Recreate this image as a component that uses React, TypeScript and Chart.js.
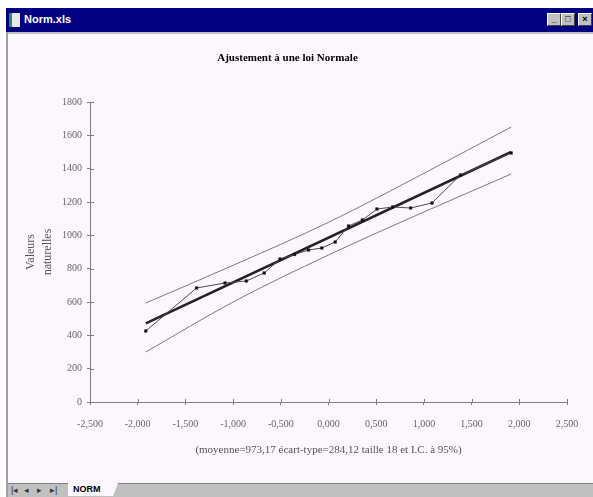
import React, { useEffect, useRef } from "react";
import { Chart, registerables } from "chart.js";

Chart.register(...registerables);

// ---- data ----
const chartTitle = "Ajustement à une loi Normale";
const xAxisTitle = "(moyenne=973,17 écart-type=284,12 taille 18 et I.C. à 95%)";
const yAxisTitle = ["Valeurs", "naturelles"];

const xTickValues = [-2.5, -2, -1.5, -1, -0.5, 0, 0.5, 1, 1.5, 2, 2.5];
const xTickLabels = ["-2,500", "-2,000", "-1,500", "-1,000", "-0,500", "0,000", "0,500", "1,000", "1,500", "2,000", "2,500"];
const yTickValues = [0, 200, 400, 600, 800, 1000, 1200, 1400, 1600, 1800];
const yTickLabels = ["0", "200", "400", "600", "800", "1000", "1200", "1400", "1600", "1800"];

const normalScores = [-1.915, -1.383, -1.085, -0.861, -0.674, -0.508, -0.355, -0.21, -0.07, 0.07, 0.21, 0.355, 0.508, 0.674, 0.861, 1.085, 1.383, 1.915];
const observedValues = [426, 684, 714, 726, 774, 858, 885, 912, 924, 960, 1056, 1092, 1158, 1170, 1164, 1194, 1362, 1494];

const fitScores = [-1.915, 1.915];
const fitValues = [472, 1500];

const bandScores = [-1.915, -1, 0, 1, 1.915];
const upperBand = [594, 820, 1078, 1372, 1650];
const lowerBand = [300, 600, 882, 1140, 1368];

const AXIS = "#808080";
const SERIF = '"Liberation Serif", "Times New Roman", serif';

const pairs = (xs: number[], ys: number[]) => xs.map((x, i) => ({ x, y: ys[i] }));

const innerTicks = {
  id: "innerTicks",
  beforeDatasetsDraw(chart: any) {
    const { ctx, chartArea } = chart;
    const x = chart.scales.x;
    const y = chart.scales.y;
    ctx.save();
    ctx.strokeStyle = AXIS;
    ctx.lineWidth = 1;
    ctx.beginPath();
    x.ticks.forEach((t: any) => {
      const px = Math.round(x.getPixelForValue(t.value)) + 0.5;
      ctx.moveTo(px, chartArea.bottom);
      ctx.lineTo(px, chartArea.bottom - 3);
    });
    y.ticks.forEach((t: any) => {
      const py = Math.round(y.getPixelForValue(t.value)) + 0.5;
      ctx.moveTo(chartArea.left, py);
      ctx.lineTo(chartArea.left + 4, py);
    });
    ctx.stroke();
    ctx.restore();
  },
};

function ChartCanvas() {
  const ref = useRef<HTMLCanvasElement | null>(null);
  useEffect(() => {
    if (!ref.current) return;
    const chart = new Chart(ref.current, {
      type: "scatter",
      data: {
        datasets: [
          {
            label: "Valeurs",
            data: pairs(normalScores, observedValues),
            showLine: true,
            borderColor: "#4a4a4a",
            borderWidth: 1,
            pointStyle: "rect",
            pointRadius: 1.8,
            pointBackgroundColor: "#111",
            pointBorderColor: "#111",
            pointBorderWidth: 0.5,
          },
          {
            label: "Ajustement",
            data: pairs(fitScores, fitValues),
            showLine: true,
            borderColor: "#222",
            borderWidth: 2.6,
            pointRadius: 0,
          },
          {
            label: "Borne sup",
            data: pairs(bandScores, upperBand),
            showLine: true,
            borderColor: "#7a7a7a",
            borderWidth: 1,
            pointRadius: 0,
            cubicInterpolationMode: "monotone",
          },
          {
            label: "Borne inf",
            data: pairs(bandScores, lowerBand),
            showLine: true,
            borderColor: "#7a7a7a",
            borderWidth: 1,
            pointRadius: 0,
            cubicInterpolationMode: "monotone",
          },
        ],
      },
      options: {
        responsive: false,
        animation: false,
        devicePixelRatio: 1,
        layout: { padding: { left: 0, right: 26, top: 0, bottom: 0 } },
        plugins: {
          legend: { display: false },
          tooltip: { enabled: false },
          title: {
            display: true,
            text: chartTitle,
            color: "#000",
            font: { family: SERIF, size: 11, weight: "bold" },
            padding: { top: 17.4, bottom: 37.4 },
          },
        },
        scales: {
          x: {
            type: "linear",
            position: "bottom",
            min: -2.5,
            max: 2.5,
            afterBuildTicks: (s: any) => {
              s.ticks = xTickValues.map((v) => ({ value: v }));
            },
            afterFit: (s: any) => {
              s.height = 81;
            },
            ticks: {
              autoSkip: false,
              maxRotation: 0,
              padding: 13,
              color: "#666",
              font: { family: SERIF, size: 10 },
              callback: (v: any) => {
                const i = xTickValues.findIndex((t) => Math.abs(t - Number(v)) < 1e-9);
                return i >= 0 ? xTickLabels[i] : "";
              },
            },
            grid: { drawOnChartArea: false, drawTicks: true, tickLength: 3, color: AXIS },
            border: { color: AXIS, width: 1 },
            title: {
              display: true,
              text: xAxisTitle,
              color: "#555",
              font: { family: SERIF, size: 11 },
              padding: { top: 0, bottom: 26.6 },
            },
          },
          y: {
            type: "linear",
            min: 0,
            max: 1800,
            afterBuildTicks: (s: any) => {
              s.ticks = yTickValues.map((v) => ({ value: v }));
            },
            afterFit: (s: any) => {
              s.width = 82;
            },
            ticks: {
              autoSkip: false,
              padding: 5,
              color: "#666",
              font: { family: SERIF, size: 10 },
              callback: (v: any) => {
                const i = yTickValues.indexOf(Number(v));
                return i >= 0 ? yTickLabels[i] : "";
              },
            },
            grid: { drawOnChartArea: false, drawTicks: true, tickLength: 3, color: AXIS },
            border: { color: AXIS, width: 1 },
            title: {
              display: true,
              text: yAxisTitle,
              color: "#555",
              font: { family: SERIF, size: 12, lineHeight: 1.4 },
              padding: { top: 14.6, bottom: 0 },
            },
          },
        },
      },
      plugins: [innerTicks],
    } as any);
    return () => chart.destroy();
  }, []);
  return <canvas ref={ref} width={585} height={449} style={{ display: "block", width: 585, height: 449 }} />;
}

const btn: React.CSSProperties = {
  position: "absolute",
  top: 5,
  width: 14,
  height: 13,
  background: "#c0c0c0",
  borderTop: "1px solid #fff",
  borderLeft: "1px solid #fff",
  borderRight: "1px solid #404040",
  borderBottom: "1px solid #404040",
  boxSizing: "border-box",
  fontSize: 9,
  lineHeight: "11px",
  textAlign: "center",
  color: "#000",
  fontWeight: "bold",
  fontFamily: '"Liberation Sans", Arial, sans-serif',
};

export default function App() {
  return (
    <div
      style={{
        position: "fixed",
        left: 0,
        top: 0,
        width: 593,
        height: 497,
        background: "#fff",
        overflow: "hidden",
        fontFamily: '"Liberation Sans", Arial, sans-serif',
      }}
    >
      {/* title bar */}
      <div style={{ position: "absolute", left: 6, top: 8, width: 587, height: 24, background: "#000080" }}>
        <div
          style={{
            position: "absolute",
            left: 3,
            top: 5,
            width: 11,
            height: 14,
            background: "#e8e8e8",
            borderLeft: "3px solid #2a8a6a",
            boxSizing: "border-box",
          }}
        />
        <span
          style={{
            position: "absolute",
            left: 18,
            top: 5,
            color: "#fff",
            fontWeight: "bold",
            fontSize: 11,
            lineHeight: "13px",
          }}
        >
          Norm.xls
        </span>
        <div style={{ ...btn, left: 541 }}>_</div>
        <div style={{ ...btn, left: 555 }}>□</div>
        <div style={{ ...btn, left: 572 }}>×</div>
      </div>
      {/* frame */}
      <div style={{ position: "absolute", left: 6, top: 32, width: 587, height: 2, background: "#c0c0c0" }} />
      <div style={{ position: "absolute", left: 6, top: 32, width: 2, height: 465, background: "#a0a0a0" }} />
      {/* chart */}
      <div style={{ position: "absolute", left: 8, top: 34, width: 585, height: 449, background: "#fcf7fc" }}>
        <ChartCanvas />
      </div>
      {/* sheet tabs */}
      <div
        style={{
          position: "absolute",
          left: 8,
          top: 483,
          width: 585,
          height: 14,
          background: "#c0c0c0",
          borderTop: "1px solid #808080",
          boxSizing: "border-box",
        }}
      >
        {["|◂", "◂", "▸", "▸|"].map((g, i) => (
          <span
            key={i}
            style={{
              position: "absolute",
              left: 3 + i * 13,
              top: 0,
              fontSize: 9,
              lineHeight: "12px",
              color: "#333",
            }}
          >
            {g}
          </span>
        ))}
        <div
          style={{
            position: "absolute",
            left: 60,
            top: -1,
            width: 50,
            height: 13,
            background: "#fcf7fc",
            clipPath: "polygon(0 0, 100% 0, 90% 100%, 0 100%)",
          }}
        >
          <span
            style={{
              position: "absolute",
              left: 5,
              top: 1,
              fontSize: 9,
              fontWeight: "bold",
              lineHeight: "11px",
              color: "#000",
            }}
          >
            NORM
          </span>
        </div>
      </div>
    </div>
  );
}
